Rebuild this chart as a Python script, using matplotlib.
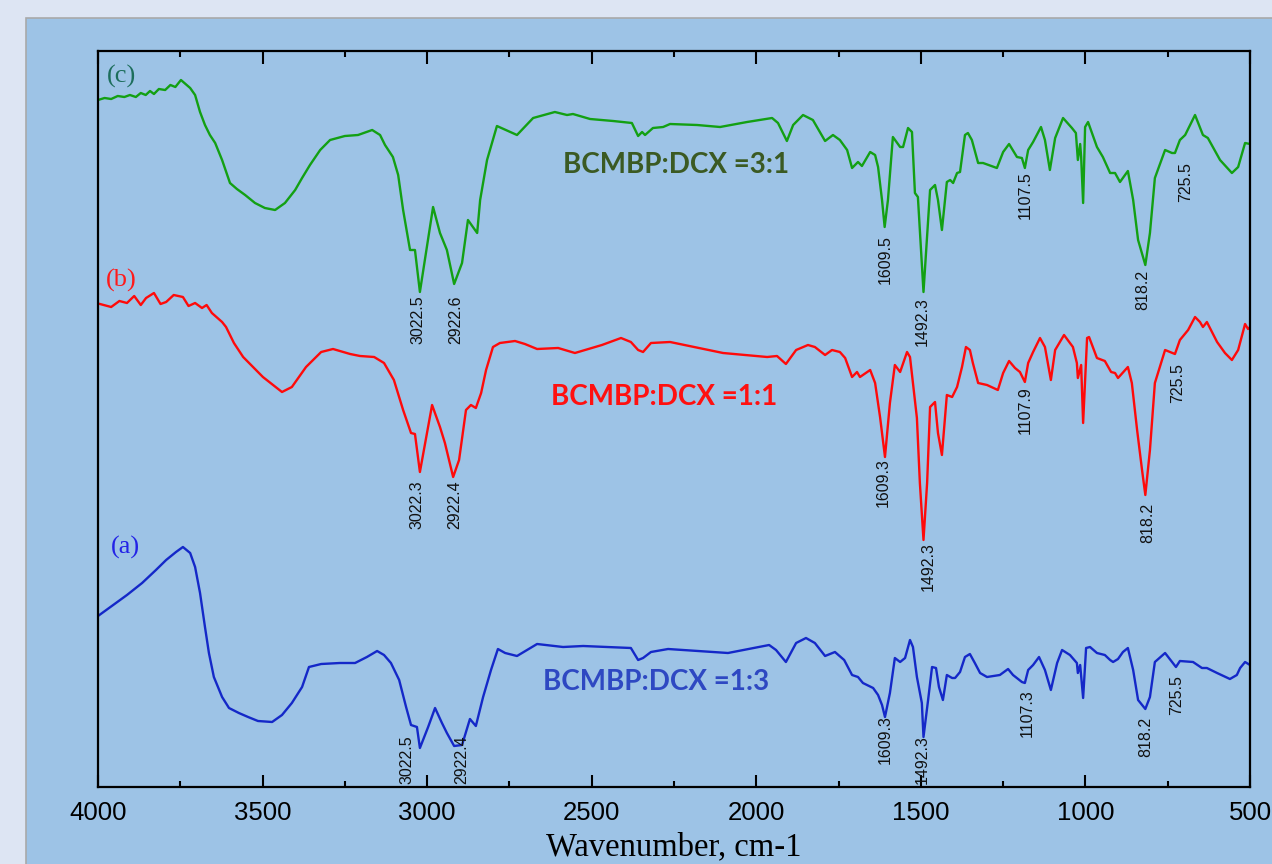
import matplotlib.pyplot as plt
from matplotlib.patches import Rectangle
from matplotlib.ticker import MultipleLocator

# FTIR spectra, wavenumber (cm-1) and offset transmittance (a.u.)
wn_c = [4000, 3980, 3960, 3940, 3920, 3903, 3885, 3870, 3855, 3842, 3830, 3815, 3796, 3780,
        3765, 3748, 3720, 3705, 3690, 3675, 3660, 3644, 3623, 3599, 3578,
        3553, 3523, 3493, 3462, 3432, 3401, 3380, 3356, 3325, 3295, 3250, 3210, 3167, 3143,
        3128, 3104, 3088, 3073, 3052, 3037, 3022, 2982, 2961, 2940, 2918, 2894, 2876, 2848,
        2839, 2818, 2788, 2727, 2678, 2612, 2575, 2557, 2505, 2435, 2378, 2359, 2347, 2338,
        2314, 2283, 2262, 2180, 2110, 2028, 1952, 1934, 1907, 1888, 1858, 1828, 1791, 1767,
        1746, 1724, 1709, 1691, 1679, 1654, 1639, 1630, 1618, 1610, 1600, 1585, 1563, 1554,
        1539, 1527, 1518, 1509, 1492, 1472, 1457, 1448, 1436, 1421, 1411, 1402, 1390, 1381,
        1366, 1357, 1345, 1326, 1311, 1269, 1250, 1232, 1208, 1193, 1184, 1174, 1159, 1135,
        1123, 1108, 1092, 1068, 1041, 1029, 1023, 1016, 1013, 1007, 1001, 992, 965, 947,
        925, 910, 895, 871, 855, 840, 818, 804, 789, 758, 737, 728, 713, 697, 667, 643, 628,
        591, 555, 536, 515, 500]
tr_c = [687, 689, 688, 691, 690, 692, 690, 694, 692, 696, 693, 698, 697, 702,
        700, 707, 699, 692, 675, 662, 652, 644, 627, 604, 598,
        592, 584, 579, 577, 584, 597, 609, 622, 637, 647, 651, 652, 657, 652,
        642, 630, 612, 577, 537, 537, 495, 580, 554, 537, 503, 524, 567, 554,
        587, 627, 661, 652, 669, 675, 672, 673, 668, 666, 664, 651, 655, 652,
        659, 660, 663, 662, 660, 665, 669, 664, 646, 662, 672, 667, 646, 652,
        647, 637, 619, 625, 621, 635, 632, 620, 587, 560, 587, 650, 640, 640,
        659, 655, 594, 590, 495, 597, 602, 587, 557, 605, 607, 604, 614, 615,
        652, 654, 647, 624, 624, 619, 635, 643, 630, 629, 619, 637, 645, 660,
        647, 617, 649, 669, 659, 654, 627, 643, 630, 584, 660, 665, 640, 630,
        614, 614, 605, 616, 587, 547, 522, 554, 609, 637, 634, 634, 647, 652, 672, 652, 649,
        627, 614, 620, 644, 643]

wn_b = [3994, 3960, 3935, 3912, 3890, 3870, 3854, 3830, 3810, 3793, 3770, 3742, 3725, 3705,
        3684, 3670, 3654, 3640, 3623, 3611, 3587, 3559, 3529, 3499, 3468, 3441, 3411, 3368,
        3322, 3286, 3234, 3204, 3161, 3131, 3101, 3073, 3049, 3037, 3022, 2997, 2985, 2961,
        2946, 2921, 2903, 2882, 2867, 2852, 2836, 2821, 2800, 2779, 2733, 2703, 2666, 2602,
        2551, 2469, 2411, 2381, 2359, 2344, 2320, 2262, 2101, 1967, 1937, 1910, 1879, 1843,
        1822, 1791, 1770, 1746, 1730, 1709, 1694, 1685, 1654, 1639, 1624, 1609, 1594, 1579,
        1563, 1542, 1533, 1512, 1503, 1492, 1481, 1472, 1457, 1448, 1436, 1421, 1405, 1390,
        1375, 1363, 1351, 1342, 1326, 1299, 1266, 1250, 1232, 1214, 1199, 1184, 1174, 1159,
        1138, 1123, 1105, 1092, 1065, 1038, 1026, 1023, 1013, 1007, 995, 989, 965, 941, 922,
        910, 901, 871, 859, 843, 828, 818, 804, 789, 758, 728, 713, 688, 667, 652, 643, 631,
        600, 576, 555, 536, 515, 506, 500]
tr_b = [483, 480, 486, 484, 491, 482, 489, 494, 483, 485, 492, 490, 481, 484,
        479, 482, 474, 470, 465, 460, 444, 430, 420, 410, 402, 395, 400, 420,
        435, 438, 433, 431, 430, 424, 407, 377, 354, 353, 315, 360, 382, 360,
        344, 310, 327, 377, 382, 379, 394, 417, 440, 444, 446, 443, 438, 439,
        434, 442, 449, 445, 437, 435, 444, 445, 434, 430, 431, 423, 437, 442,
        440, 432, 437, 435, 429, 410, 415, 410, 417, 404, 370, 330, 384, 422,
        415, 435, 430, 369, 304, 247, 304, 380, 385, 354, 332, 392, 390, 400,
        420, 440, 437, 424, 404, 402, 397, 414, 426, 419, 415, 405, 424, 435,
        449, 440, 407, 437, 452, 440, 424, 409, 422, 364, 449, 450, 429, 426, 415,
        414, 409, 420, 404, 357, 317, 292, 337, 404, 437, 433, 447, 457, 470, 465, 460, 465,
        445, 434, 427, 437, 463, 458, 460]

wn_a = [4000, 3954, 3912, 3866, 3824, 3793, 3763, 3742, 3720, 3705, 3690, 3675, 3663, 3648,
        3623, 3602, 3572, 3544, 3514, 3471, 3441, 3411, 3380, 3359, 3322, 3265, 3219, 3183,
        3152, 3131, 3110, 3085, 3064, 3049, 3031, 3022, 2997, 2976, 2955, 2940, 2918, 2894,
        2870, 2852, 2830, 2806, 2785, 2763, 2727, 2666, 2587, 2526, 2381, 2359, 2344, 2320,
        2268, 2086, 1961, 1940, 1910, 1879, 1849, 1822, 1791, 1761, 1733, 1709, 1691, 1676,
        1645, 1630, 1618, 1609, 1594, 1579, 1563, 1548, 1533, 1524, 1512, 1497, 1492, 1478,
        1466, 1454, 1445, 1433, 1421, 1405, 1396, 1381, 1366, 1351, 1336, 1320, 1299, 1260,
        1235, 1220, 1193, 1184, 1174, 1159, 1141, 1123, 1105, 1086, 1071, 1047, 1026, 1023,
        1016, 1007, 998, 986, 965, 941, 925, 916, 901, 886, 871, 855, 840, 818, 804, 789,
        758, 737, 725, 713, 673, 646, 631, 600, 561, 540, 530, 515, 500]
tr_a = [171, 182, 192, 204, 217, 227, 235, 240, 234, 220, 194, 160, 134, 110,
        90, 79, 74, 70, 66, 65, 72, 84, 100, 120, 123, 124, 124, 130,
        136, 132, 124, 107, 80, 62, 60, 39, 60, 79, 64, 54, 41, 42,
        68, 61, 90, 117, 138, 134, 131, 143, 140, 141, 139, 127, 129, 135,
        138, 134, 142, 137, 125, 144, 149, 144, 131, 135, 127, 112, 110, 104,
        99, 92, 82, 70, 94, 129, 125, 129, 147, 140, 110, 84, 50, 87,
        120, 119, 100, 87, 112, 109, 109, 115, 130, 133, 124, 114, 110, 112,
        118, 112, 105, 104, 117, 122, 130, 117, 97, 124, 137, 132, 124, 114,
        122, 89, 139, 140, 134, 132, 127, 125, 128, 135, 139, 117, 87, 78, 90, 125,
        134, 125, 120, 126, 125, 119, 119, 114, 108, 112, 119, 125, 122]

# peak labels: (text, wavenumber, transmittance)
peaks_c = [("3022.5", 3028, 467), ("2922.6", 2912, 467), ("1609.5", 1609, 527),
           ("1492.3", 1497, 465), ("1107.5", 1184, 592), ("818.2", 825, 497),
           ("725.5", 697, 605)]
peaks_b = [("3022.3", 3031, 282), ("2922.4", 2915, 282), ("1609.3", 1615, 304),
           ("1492.3", 1478, 220), ("1107.9", 1184, 377), ("818.2", 810, 264),
           ("725.5", 719, 404)]
peaks_a = [("3022.5", 3061, 27), ("2922.4", 2894, 27), ("1609.3", 1609, 47),
           ("1492.3", 1497, 27), ("1107.3", 1178, 74), ("818.2", 818, 50),
           ("725.5", 722, 92)]

fig = plt.figure(figsize=(12.72, 8.64), dpi=100, facecolor="#dde5f3")
# blue slide panel behind the chart
fig.patches.append(Rectangle((26 / 1272, -0.01), 1.1, (864 - 18) / 864 + 0.01,
                             transform=fig.transFigure, facecolor="#9dc3e6",
                             edgecolor="#a9a9a9", linewidth=1.2, zorder=-10))

ax = fig.add_axes([98 / 1272, 77 / 864, 1152 / 1272, 736 / 864])
ax.set_facecolor("none")

ax.plot(wn_c, tr_c, color="#13a013", lw=1.7)
ax.plot(wn_b, tr_b, color="#ff0a0a", lw=1.7)
ax.plot(wn_a, tr_a, color="#1428c8", lw=1.7)

for peaks in (peaks_c, peaks_b, peaks_a):
    for txt, w, t in peaks:
        ax.text(w, t, txt, rotation=90, ha="center", va="center",
                fontsize=11.5, family="Liberation Sans", color="#111111")

ax.text(2244, 622, "BCMBP:DCX =3:1", ha="center", va="center", fontsize=20,
        family="Lato", weight="bold", color="#3b5a23")
ax.text(2280, 390, "BCMBP:DCX =1:1", ha="center", va="center", fontsize=20,
        family="Lato", weight="bold", color="#ff1010")
ax.text(2305, 105, "BCMBP:DCX =1:3", ha="center", va="center", fontsize=20,
        family="Lato", weight="bold", color="#2e48c2")

ax.text(3928, 711, "(c)", ha="center", va="center", fontsize=19,
        family="Liberation Serif", color="#1d6e5c")
ax.text(3928, 507, "(b)", ha="center", va="center", fontsize=19,
        family="Liberation Serif", color="#ff1a1a")
ax.text(3916, 240, "(a)", ha="center", va="center", fontsize=19,
        family="Liberation Serif", color="#2323e6")

ax.set_xlim(4000, 500)
ax.set_ylim(0, 736)
ax.xaxis.set_major_locator(MultipleLocator(500))
ax.xaxis.set_minor_locator(MultipleLocator(250))
ax.tick_params(axis="x", which="both", direction="in", top=True, width=1.5,
               labelsize=18.5, pad=10)
ax.tick_params(axis="x", which="major", length=9)
ax.tick_params(axis="x", which="minor", length=4.5)
ax.tick_params(axis="y", left=False, labelleft=False)
for lab in ax.get_xticklabels():
    lab.set_family("Liberation Sans")
for s in ax.spines.values():
    s.set_linewidth(1.6)

ax.set_xlabel("Wavenumber, cm-1", fontsize=23.5, family="Liberation Serif", labelpad=5)

fig.savefig("out.png", dpi=100, facecolor=fig.get_facecolor())
